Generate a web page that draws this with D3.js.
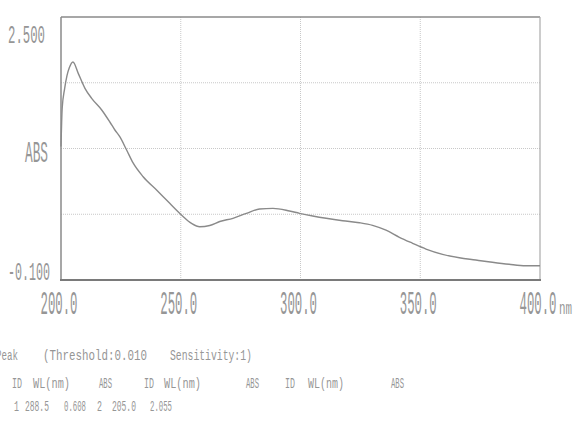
<!DOCTYPE html>
<html>
<head>
<meta charset="utf-8">
<script src="https://cdn.jsdelivr.net/npm/d3@7"></script>
<style>
  html, body { margin: 0; padding: 0; background: #ffffff; }
  svg { display: block; }
  text { font-family: "Liberation Mono", "DejaVu Sans Mono", monospace; fill: #969696; }
</style>
</head>
<body>
<svg id="chart" width="575" height="423"></svg>
<script>
// Absorbance spectrum, wavelength (nm) vs ABS
const wavelength = [200.0, 200.5, 201.5, 202.5, 203.5, 205.0, 207.2, 210.0, 212.8, 217.0,
  220.4, 222.5, 224.6, 227.4, 230.1, 234.3, 239.9, 245.4, 250.3, 254.5,
  257.9, 262.1, 266.3, 271.8, 277.4, 282.9, 288.5, 295.4, 299.6, 305.1,
  310.7, 317.6, 324.6, 330.1, 335.7, 341.3, 346.8, 352.4, 359.3, 366.3,
  373.2, 380.1, 387.1, 394.0, 400.0];
const absorbance = [1.22, 1.60, 1.79, 1.92, 2.00, 2.055, 1.943, 1.795, 1.696, 1.581,
  1.462, 1.383, 1.314, 1.185, 1.057, 0.921, 0.790, 0.658, 0.543, 0.460,
  0.427, 0.439, 0.478, 0.510, 0.559, 0.602, 0.608, 0.582, 0.559, 0.533,
  0.510, 0.486, 0.466, 0.440, 0.392, 0.322, 0.263, 0.206, 0.154, 0.120,
  0.098, 0.075, 0.055, 0.041, 0.041];

const xTicks = [200, 250, 300, 350, 400];
const yGrid = [0.55, 1.20, 1.85];
const yTickLabels = ["2.500", "-0.100"];

// Peak pick table
const peakHeader = "(Threshold:0.010";
const peakHeader2 = "Sensitivity:1)";
const peakIds = [1, 2];
const peakWl = [288.5, 205.0];
const peakAbs = [0.608, 2.055];

const svg = d3.select("#chart");
const L = 61, R = 540, T = 17, B = 280;

const x = d3.scaleLinear().domain([200, 400]).range([L, R]);
const y = d3.scaleLinear().domain([-0.1, 2.5]).range([B, T]);

// Condensed printer-style text: draw at a font size, then squeeze horizontally to a width
function squeezed(txt, xPos, yPos, size, w, anchor) {
  const t = svg.append("text").attr("font-size", size).text(txt);
  const nat = t.node().getComputedTextLength();
  const sx = w / nat;
  let x0 = xPos;
  if (anchor === "middle") x0 = xPos - w / 2;
  t.attr("transform", `translate(${x0},${yPos}) scale(${sx},1)`);
  return t;
}

// dotted grid
svg.append("g").selectAll("line").data(xTicks.slice(1, -1)).join("line")
  .attr("x1", d => x(d)).attr("x2", d => x(d)).attr("y1", T).attr("y2", B)
  .attr("stroke", "#c8c8c8").attr("stroke-width", 1).attr("stroke-dasharray", "1,1");
svg.append("g").selectAll("line").data(yGrid).join("line")
  .attr("x1", L).attr("x2", R).attr("y1", d => y(d)).attr("y2", d => y(d))
  .attr("stroke", "#c8c8c8").attr("stroke-width", 1).attr("stroke-dasharray", "1,1");

// frame
svg.append("line").attr("x1", L).attr("x2", R).attr("y1", T).attr("y2", T)
  .attr("stroke", "#8a8a8a").attr("stroke-width", 1.6);
svg.append("line").attr("x1", L).attr("x2", L).attr("y1", T).attr("y2", B)
  .attr("stroke", "#8a8a8a").attr("stroke-width", 1.5);
svg.append("line").attr("x1", R).attr("x2", R).attr("y1", T).attr("y2", B)
  .attr("stroke", "#aaaaaa").attr("stroke-width", 1.2);
svg.append("line").attr("x1", L - 1).attr("x2", R + 1).attr("y1", B).attr("y2", B)
  .attr("stroke", "#7a7a7a").attr("stroke-width", 2.2);

// spectrum trace
const line = d3.line().x((d, i) => x(wavelength[i])).y(d => y(d)).curve(d3.curveMonotoneX);
svg.append("path").datum(absorbance).attr("d", line)
  .attr("fill", "none").attr("stroke", "#8a8a8a").attr("stroke-width", 1.4);

// x axis labels, placed from the scale
const fmtX = d3.format(".1f");
xTicks.forEach(v => {
  squeezed(fmtX(v), x(v) - 2, B + 34, 33, 37, "middle").attr("fill", "#9a9a9a");
});
squeezed("nm", 559, 314, 18, 13);

// y axis labels
squeezed(yTickLabels[0], 8, 43, 26, 37);
squeezed(yTickLabels[1], 8, y(-0.1), 26, 42);
squeezed("ABS", 25, 162, 30, 23);

// peak table
const cell = (txt, xPos, yPos, w) => squeezed(txt, xPos, yPos, 15, w);
cell("Peak", -4, 360, 22);
cell(peakHeader, 43, 360, 104);
cell(peakHeader2, 170, 360, 82);

const hdr = [["ID", 12, 10], ["WL(nm)", 33, 37], ["ABS", 99, 13],
             ["ID", 144, 10], ["WL(nm)", 164, 37], ["ABS", 246, 13],
             ["ID", 285, 10], ["WL(nm)", 308, 36], ["ABS", 391, 13]];
hdr.forEach(h => cell(h[0], h[1], 388, h[2]));

const colX = [[14, 25, 64], [97, 112, 150]];
peakIds.forEach((id, i) => {
  cell(String(id), colX[i][0], 411, 5);
  cell(d3.format(".1f")(peakWl[i]), colX[i][1], 411, 24);
  cell(d3.format(".3f")(peakAbs[i]), colX[i][2], 411, 22);
});
</script>
</body>
</html>
